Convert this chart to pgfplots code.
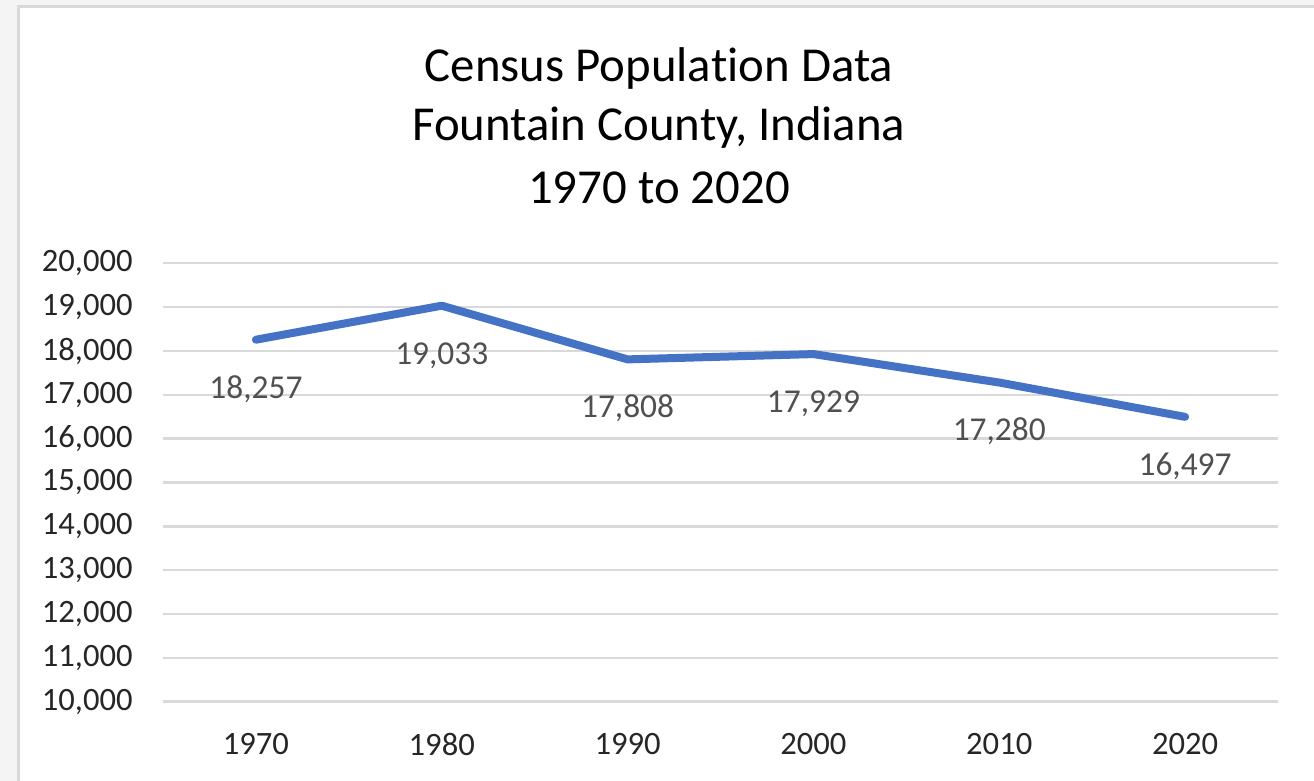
\documentclass[border=0pt]{standalone}
\usepackage{pgfplots}
\pgfplotsset{compat=1.18}
\usepackage{fontspec}
\setmainfont{Carlito}[Ligatures=NoCommon]
\definecolor{linecol}{HTML}{4472C4}
\definecolor{gridcol}{HTML}{D9D9D9}
\definecolor{ticktext}{HTML}{262626}
\definecolor{labeltext}{HTML}{505050}
\definecolor{outer}{HTML}{F4F4F4}
\begin{document}
\begin{tikzpicture}[x=1pt,y=1pt]
\fill[outer] (0,0) rectangle (657,390.5);
\begin{scope}
\clip (0,0) rectangle (657,390.5);
\filldraw[fill=white, draw=gridcol, line width=1.2pt] (9.2,-10) rectangle (670,387.2);
\end{scope}
\path[use as bounding box] (0,0) rectangle (657,390.5);
\node[anchor=base, font=\fontsize{24.4}{29}\selectfont, text=black] at (329.5,349.6) {Census Popula\kern0pt tion Data};
\node[anchor=base, font=\fontsize{24.4}{29}\selectfont, text=black] at (329.5,320) {Fountain County, Indiana};
\node[anchor=base, font=\fontsize{24.4}{29}\selectfont, text=black] at (329.5,288.5) {1970 to 2020};
\begin{axis}[
  at={(81.5pt,39.65pt)}, anchor=south west,
  scale only axis, width=557.5pt, height=219.2pt,
  xmin=-0.5, xmax=5.5, ymin=10000, ymax=20000,
  xtick={0,1,2,3,4,5},
  xticklabels={1970,1980,1990,2000,2010,2020},
  ytick={10000,11000,12000,13000,14000,15000,16000,17000,18000,19000,20000},
  scaled y ticks=false,
  axis line style={draw=none},
  major tick length=0pt,
  ymajorgrids, grid style={gridcol, line width=1.2pt},
  /pgf/number format/.cd, 1000 sep={,}, assume math mode=true,
  /pgfplots/.cd,
  ticklabel style={font=\fontsize{16.3}{19}\selectfont, text=ticktext, inner sep=0pt},
  yticklabel style={anchor=east, xshift=-15pt},
  xticklabel style={anchor=north, yshift=-15.5pt},
  clip=false,
  nodes near coords,
  every node near coord/.append style={font=\fontsize{16.7}{19}\selectfont, text=labeltext, anchor=base, yshift=-29.2pt, inner sep=0pt},
]
\addplot[linecol, line width=4pt, line cap=round, line join=round, mark=none] coordinates {
  (0,18257) (1,19033) (2,17808) (3,17929) (4,17280) (5,16497)
};
\end{axis}
\end{tikzpicture}
\end{document}
